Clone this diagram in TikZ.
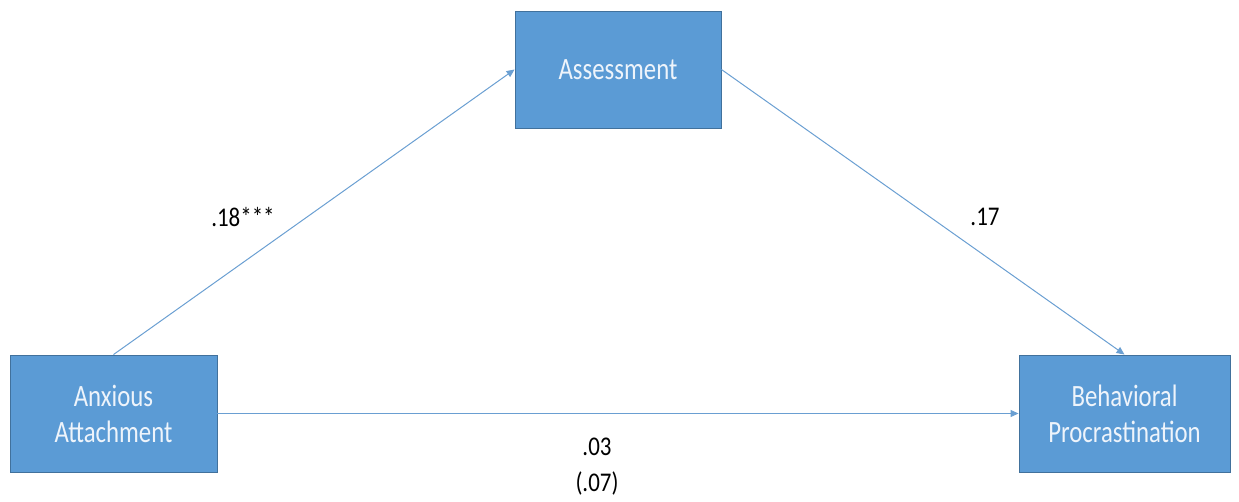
\documentclass[tikz,border=0pt]{standalone}
\usepackage{fontspec}
\setmainfont{Carlito}
\newfontfamily\boxfont[FakeStretch=0.8]{Carlito}
\newfontfamily\coeffont[FakeStretch=0.85]{Carlito}
\usetikzlibrary{arrows.meta}
\definecolor{boxfill}{HTML}{5B9BD5}
\definecolor{boxedge}{HTML}{41719C}
\definecolor{linkcol}{HTML}{6A9FD2}
\definecolor{boxtext}{HTML}{EEF4FB}
\tikzset{
  varbox/.style={draw=boxedge, line width=0.9pt, fill=boxfill, align=center,
    text=boxtext, font=\boxfont\fontsize{31}{36}\selectfont, inner sep=0pt},
  path/.style={draw=linkcol, line width=1pt,
    -{Triangle[length=8pt,width=7pt]}},
  coef/.style={font=\coeffont\fontsize{27}{36}\selectfont, text=black, inner sep=0pt}
}
\begin{document}
\begin{tikzpicture}[x=1pt,y=-1pt]
\useasboundingbox (0,0) rectangle (1239,502);
\node[varbox, minimum width=207pt, minimum height=117pt] (anx) at (113.5,413.5) {Anxious\\Attachment};
\node[varbox, minimum width=206pt, minimum height=117pt] (ass) at (618,69.5) {Assessment};
\node[varbox, minimum width=211pt, minimum height=117pt] (beh) at (1124.5,413.5) {Behavioral\\Procrastination};
\draw[path] (anx.north) -- (ass.west);
\draw[path] (ass.east) -- (beh.north);
\draw[path] (anx.east) -- (beh.west);
\node[coef] (a) at (243,217) {.18***};
\node[coef] (b) at (985,217) {.17};
\node[coef] (c) at (597,447) {.03};
\node[coef] (cp) at (597,483) {(.07)};
\end{tikzpicture}
\end{document}
